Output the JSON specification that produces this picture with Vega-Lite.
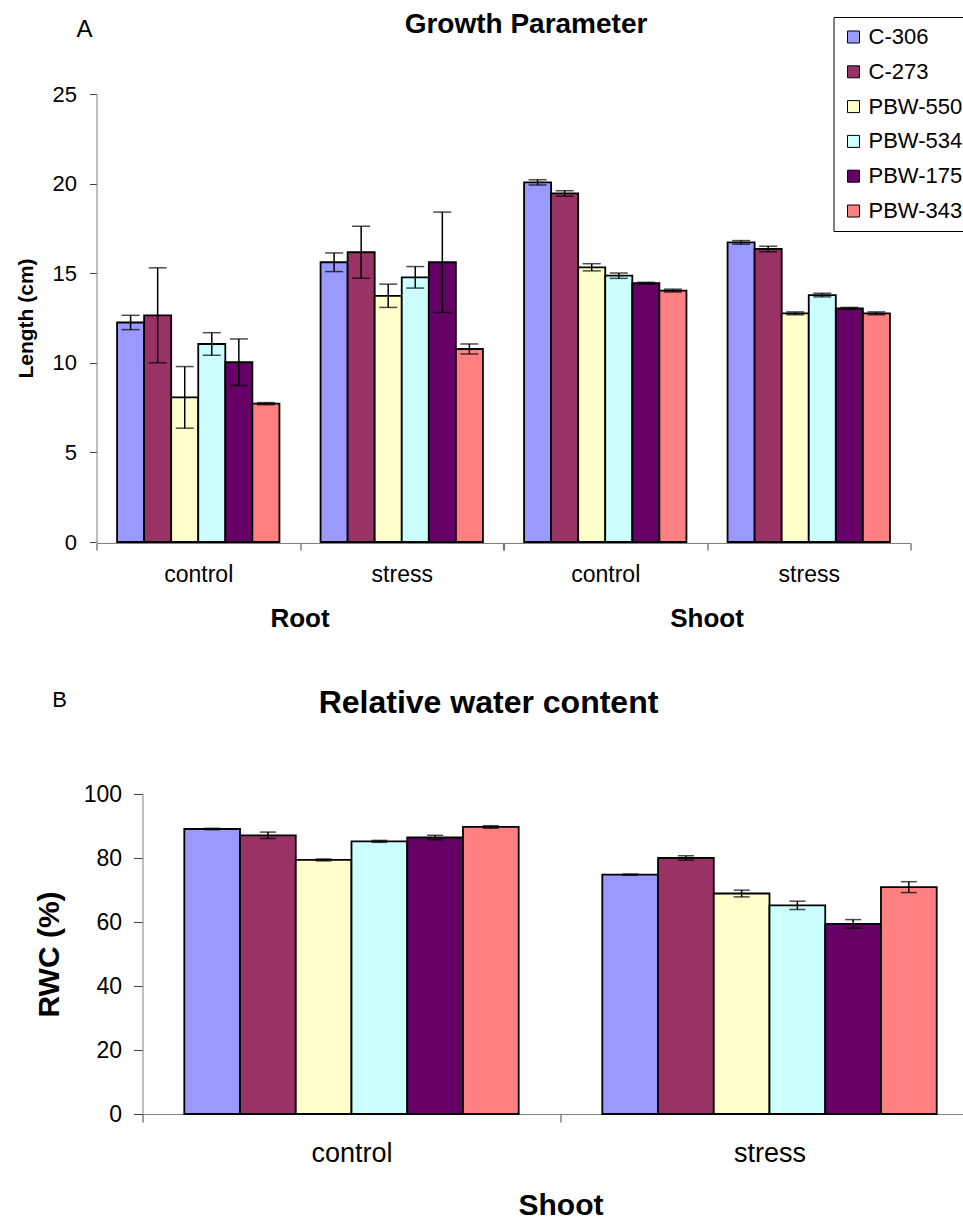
{
"$schema":"https://vega.github.io/schema/vega-lite/v6.json",
"background":"white",
"padding":{"left":14.5,"top":10,"right":0,"bottom":0},
"config":{"font":"Liberation Sans","view":{"stroke":null},
 "axis":{"grid":false,"domainColor":"#808080","tickColor":"#404040","labelColor":"black","titleColor":"black"},
 "title":{"color":"black"},
 "header":{"labelColor":"black","titleColor":"black"}},
"datasets":{
 "growth":[
  {"organ":"Root","treatment":"control","variety":"C-306","length":12.25,"err":0.4},
  {"organ":"Root","treatment":"control","variety":"C-273","length":12.65,"err":2.65},
  {"organ":"Root","treatment":"control","variety":"PBW-550","length":8.07,"err":1.72},
  {"organ":"Root","treatment":"control","variety":"PBW-534","length":11.05,"err":0.63},
  {"organ":"Root","treatment":"control","variety":"PBW-175","length":10.03,"err":1.3},
  {"organ":"Root","treatment":"control","variety":"PBW-343","length":7.72,"err":0.06},
  {"organ":"Root","treatment":"stress","variety":"C-306","length":15.61,"err":0.52},
  {"organ":"Root","treatment":"stress","variety":"C-273","length":16.17,"err":1.45},
  {"organ":"Root","treatment":"stress","variety":"PBW-550","length":13.74,"err":0.65},
  {"organ":"Root","treatment":"stress","variety":"PBW-534","length":14.77,"err":0.6},
  {"organ":"Root","treatment":"stress","variety":"PBW-175","length":15.61,"err":2.8},
  {"organ":"Root","treatment":"stress","variety":"PBW-343","length":10.77,"err":0.28},
  {"organ":"Shoot","treatment":"control","variety":"C-306","length":20.07,"err":0.15},
  {"organ":"Shoot","treatment":"control","variety":"C-273","length":19.45,"err":0.15},
  {"organ":"Shoot","treatment":"control","variety":"PBW-550","length":15.33,"err":0.2},
  {"organ":"Shoot","treatment":"control","variety":"PBW-534","length":14.86,"err":0.15},
  {"organ":"Shoot","treatment":"control","variety":"PBW-175","length":14.44,"err":0.05},
  {"organ":"Shoot","treatment":"control","variety":"PBW-343","length":14.03,"err":0.08},
  {"organ":"Shoot","treatment":"stress","variety":"C-306","length":16.72,"err":0.1},
  {"organ":"Shoot","treatment":"stress","variety":"C-273","length":16.35,"err":0.15},
  {"organ":"Shoot","treatment":"stress","variety":"PBW-550","length":12.76,"err":0.08},
  {"organ":"Shoot","treatment":"stress","variety":"PBW-534","length":13.78,"err":0.1},
  {"organ":"Shoot","treatment":"stress","variety":"PBW-175","length":13.04,"err":0.05},
  {"organ":"Shoot","treatment":"stress","variety":"PBW-343","length":12.76,"err":0.08}
 ],
 "rwc":[
  {"organ":"Shoot","treatment":"control","variety":"C-306","rwc":89.06,"err":0.2},
  {"organ":"Shoot","treatment":"control","variety":"C-273","rwc":87.1,"err":1.0},
  {"organ":"Shoot","treatment":"control","variety":"PBW-550","rwc":79.4,"err":0.3},
  {"organ":"Shoot","treatment":"control","variety":"PBW-534","rwc":85.2,"err":0.3},
  {"organ":"Shoot","treatment":"control","variety":"PBW-175","rwc":86.4,"err":0.7},
  {"organ":"Shoot","treatment":"control","variety":"PBW-343","rwc":89.7,"err":0.4},
  {"organ":"Shoot","treatment":"stress","variety":"C-306","rwc":74.8,"err":0.2},
  {"organ":"Shoot","treatment":"stress","variety":"C-273","rwc":80.0,"err":0.7},
  {"organ":"Shoot","treatment":"stress","variety":"PBW-550","rwc":68.9,"err":1.05},
  {"organ":"Shoot","treatment":"stress","variety":"PBW-534","rwc":65.2,"err":1.3},
  {"organ":"Shoot","treatment":"stress","variety":"PBW-175","rwc":59.4,"err":1.35},
  {"organ":"Shoot","treatment":"stress","variety":"PBW-343","rwc":70.9,"err":1.7}
 ]
},
"spacing":54,
"resolve":{"scale":{"x":"independent","xOffset":"independent","y":"independent"}},
"vconcat":[
 {
  "title":{"text":"A","anchor":"start","fontSize":24,"fontWeight":"normal","offset":-4,"dx":61.5,"dy":27},
  "vconcat":[
   {
    "data":{"name":"growth"},
    "title":{"text":"Growth Parameter","anchor":"middle","fontSize":28,"fontWeight":"bold","offset":44.5,"dx":63},
    "facet":{"column":{"field":"organ","type":"nominal","sort":["Root","Shoot"],
     "header":{"title":null,"labelOrient":"bottom","labelFontSize":26,"labelFontWeight":"bold","labelPadding":19}}},
    "spacing":0,
    "spec":{
     "width":407,"height":448,
     "encoding":{
      "x":{"field":"treatment","type":"nominal","sort":["control","stress"],"scale":{"paddingInner":0,"paddingOuter":0},
       "axis":{"title":null,"labelAngle":0,"tickBand":"extent","labelFontSize":23,"labelPadding":13.5,"tickSize":7}},
      "xOffset":{"field":"variety","type":"nominal","sort":["C-306","C-273","PBW-550","PBW-534","PBW-175","PBW-343"],"scale":{"paddingOuter":0.76,"paddingInner":0}},
      "y":{"field":"length","type":"quantitative","scale":{"domain":[0,25]},
       "axis":{"title":"Length (cm)","values":[0,5,10,15,20,25],"labelFontSize":22,"titleFontSize":21,"titleFontWeight":"bold","tickSize":7,"labelPadding":13,"titlePadding":16}}
     },
     "layer":[
      {"mark":{"type":"bar","stroke":"black","strokeWidth":1.8},
       "encoding":{"color":{"field":"variety","type":"nominal",
        "scale":{"domain":["C-306","C-273","PBW-550","PBW-534","PBW-175","PBW-343"],"range":["#9999FF","#993366","#FFFFCC","#CCFFFF","#660066","#FF8080"]},
        "legend":{"title":null,"orient":"none","legendX":737,"legendY":-77,"symbolType":"square","symbolSize":144,"symbolStrokeColor":"black","symbolStrokeWidth":1,"symbolOpacity":1,"labelFontSize":22,"labelColor":"black","strokeColor":"black","fillColor":"white","padding":9,"rowPadding":12.8,"labelOffset":4}}}},
      {"mark":{"type":"errorbar","ticks":{"size":18},"color":"black","thickness":1.5},
       "encoding":{"yError":{"field":"err"}}}
     ]
    }
   }
  ]
 },
 {
  "title":{"text":"B","anchor":"start","fontSize":22,"fontWeight":"normal","offset":-4,"dx":18,"dy":21.5},
  "vconcat":[
   {
    "data":{"name":"rwc"},
    "title":{"text":"Relative water content","anchor":"middle","fontSize":32,"fontWeight":"bold","offset":63.5,"dx":-49},
    "width":882,"height":320,
    "encoding":{
     "x":{"field":"treatment","type":"nominal","sort":["control","stress"],"scale":{"paddingInner":0,"paddingOuter":0,"rangeMin":46,"rangeMax":882},
      "axis":{"title":"Shoot","titleFontSize":30,"titleFontWeight":"bold","titlePadding":23.5,"labelAngle":0,"tickBand":"extent","labelFontSize":27,"labelPadding":18.5,"tickSize":8}},
     "xOffset":{"field":"variety","type":"nominal","sort":["C-306","C-273","PBW-550","PBW-534","PBW-175","PBW-343"],"scale":{"paddingOuter":0.75,"paddingInner":0}},
     "y":{"field":"rwc","type":"quantitative","scale":{"domain":[0,100]},
      "axis":{"title":"RWC (%)","offset":-46,"values":[0,20,40,60,80,100],"labelFontSize":23,"titleFontSize":30,"titleFontWeight":"bold","tickSize":9,"labelPadding":12,"titlePadding":19}}
    },
    "layer":[
     {"mark":{"type":"bar","stroke":"black","strokeWidth":1.8},
      "encoding":{"color":{"field":"variety","type":"nominal",
       "scale":{"domain":["C-306","C-273","PBW-550","PBW-534","PBW-175","PBW-343"],"range":["#9999FF","#993366","#FFFFCC","#CCFFFF","#660066","#FF8080"]},
       "legend":{"title":null,"orient":"none","legendX":737,"legendY":-77,"symbolType":"square","symbolSize":144,"symbolStrokeColor":"black","symbolStrokeWidth":1,"symbolOpacity":1,"labelFontSize":22,"labelColor":"black","strokeColor":"black","fillColor":"white","padding":9,"rowPadding":12.8,"labelOffset":4}}}},
     {"mark":{"type":"errorbar","ticks":{"size":16},"color":"black","thickness":1.5},
      "encoding":{"yError":{"field":"err"}}}
    ]
   }
  ]
 }
]
}
